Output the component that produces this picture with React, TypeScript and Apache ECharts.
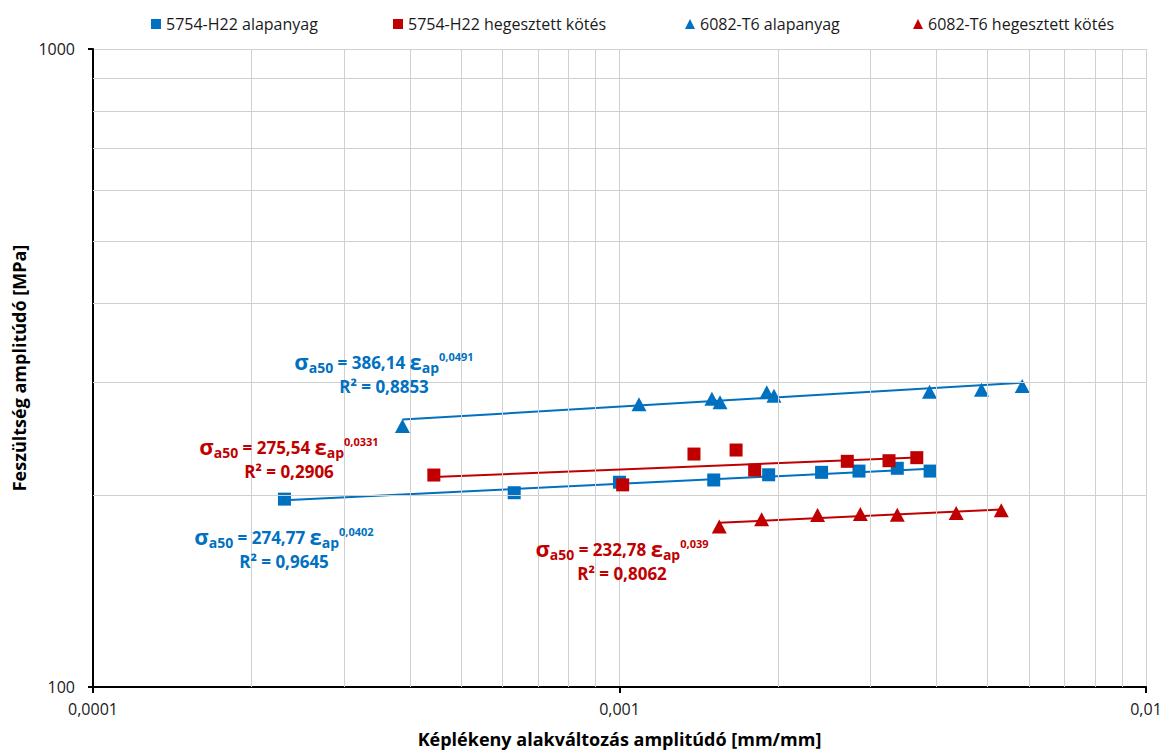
import React, { useEffect, useRef } from "react";
import * as echarts from "echarts";

// ---- data ----
const seriesNames = [
  "5754-H22 alapanyag",
  "5754-H22 hegesztett kötés",
  "6082-T6 alapanyag",
  "6082-T6 hegesztett kötés",
];

const blueSqX = [2.31e-4, 6.31e-4, 1.0e-3, 1.51e-3, 1.92e-3, 2.42e-3, 2.85e-3, 3.37e-3, 3.89e-3];
const blueSqY = [197.0, 201.6, 209.4, 211.1, 215.1, 217.0, 218.0, 220.2, 218.0];

const redSqX = [4.44e-4, 1.014e-3, 1.385e-3, 1.665e-3, 1.806e-3, 2.708e-3, 3.25e-3, 3.67e-3];
const redSqY = [214.9, 207.4, 231.8, 235.2, 218.8, 225.8, 226.3, 228.8];

const blueTriX = [3.87e-4, 1.089e-3, 1.498e-3, 1.552e-3, 1.904e-3, 1.965e-3, 3.88e-3, 4.87e-3, 5.82e-3];
const blueTriY = [256.6, 277.4, 283.1, 279.4, 289.7, 286.2, 290.3, 292.4, 296.3];

const redTriX = [1.547e-3, 1.862e-3, 2.378e-3, 2.867e-3, 3.37e-3, 4.36e-3, 5.31e-3];
const redTriY = [178.4, 183.2, 186.1, 186.7, 186.2, 187.4, 189.2];

// power-law trend coefficients (sigma = A * eps^B), as printed on the chart
const fitA = [274.77, 275.54, 386.14, 232.78];
const fitB = [0.0402, 0.0331, 0.0491, 0.039];
const fitAText = ["274,77", "275,54", "386,14", "232,78"];
const fitBText = ["0,0402", "0,0331", "0,0491", "0,039"];
const fitR2Text = ["0,9645", "0,2906", "0,8853", "0,8062"];

// axis ticks
const xMin = 0.0001;
const xMax = 0.01;
const yMin = 100;
const yMax = 1000;
const xTicks = [0.0001, 0.001, 0.01];
const xTickLabels = ["0,0001", "0,001", "0,01"];
const yTicks = [100, 1000];
const yTickLabels = ["100", "1000"];
const xMinorGrid = [0.0002, 0.0003, 0.0004, 0.0005, 0.0006, 0.0007, 0.0008, 0.0009,
  0.002, 0.003, 0.004, 0.005, 0.006, 0.007, 0.008, 0.009];
const yMinorGrid = [200, 300, 400, 500, 600, 700, 800, 900];

const xAxisTitle = "Képlékeny alakváltozás amplitúdó [mm/mm]";
const yAxisTitle = "Feszültség amplitúdó [MPa]";

const BLUE = "#0070C0";
const RED = "#C00000";
const FONT = "'Open Sans', 'Noto Sans', sans-serif";
const GRID = "#D0D0D0";

function zip(xs: number[], ys: number[]) {
  return xs.map((x, i) => [x, ys[i]]);
}
function trend(xs: number[], k: number) {
  const x0 = Math.min(...xs);
  const x1 = Math.max(...xs);
  return [
    [x0, fitA[k] * Math.pow(x0, fitB[k])],
    [x1, fitA[k] * Math.pow(x1, fitB[k])],
  ];
}
function pickLabel(v: number, ticks: number[], labels: string[]) {
  const i = ticks.findIndex((t) => Math.abs(Math.log10(v / t)) < 0.01);
  return i >= 0 ? labels[i] : "";
}

function richFor(color: string) {
  return {
    g: { fontSize: 22, fontWeight: "bold", fontFamily: FONT, fill: color, lineHeight: 26, padding: [0, 0, 3, 0] },
    m: { fontSize: 17, fontWeight: "bold", fontFamily: FONT, fill: color, lineHeight: 26 },
    sub: { fontSize: 14, fontWeight: "bold", fontFamily: FONT, fill: color, lineHeight: 14, padding: [11, 0, 0, 0] },
    sup: { fontSize: 11, fontWeight: "bold", fontFamily: FONT, fill: color, lineHeight: 11, padding: [0, 0, 11, 0] },
    r: { fontSize: 17, fontWeight: "bold", fontFamily: FONT, fill: color, lineHeight: 22 },
  };
}
function eqText(k: number) {
  return (
    "{g|σ}{sub|a50}{m| = " + fitAText[k] + " }{g|ε}{sub|ap}{sup|" + fitBText[k] + "}\n" +
    "{r|R² = " + fitR2Text[k] + "}"
  );
}

export default function App() {
  const ref = useRef<HTMLDivElement>(null);
  useEffect(() => {
    if (!ref.current) return;
    const chart = echarts.init(ref.current, null, { renderer: "svg" });

    const legendLefts = [146, 388, 680, 908];
    const legendIcons = ["rect", "rect", "triangle", "triangle"];

    const minorLines = [
      ...xMinorGrid.map((v) => [{ coord: [v, yMin] }, { coord: [v, yMax] }]),
      ...yMinorGrid.map((v) => [{ coord: [xMin, v] }, { coord: [xMax, v] }]),
    ];

    const option: any = {
      animation: false,
      backgroundColor: "#ffffff",
      legend: seriesNames.map((n, i) => ({
        data: [{ name: n, icon: legendIcons[i] }],
        left: legendLefts[i],
        top: 11,
        itemWidth: 10,
        itemHeight: 10,
        itemGap: 0,
        selectedMode: false,
        textStyle: { fontFamily: FONT, fontSize: 16, color: "#1a1a1a", padding: [0, 0, 0, 0] },
      })),
      grid: { left: 93, right: 22, top: 49, bottom: 67, containLabel: false },
      xAxis: {
        type: "log",
        logBase: 10,
        min: xMin,
        max: xMax,
        name: xAxisTitle,
        nameLocation: "middle",
        nameGap: 43,
        nameTextStyle: { fontFamily: FONT, fontSize: 18, fontWeight: "bold", color: "#000" },
        axisLine: { show: true, onZero: false, lineStyle: { color: "#000", width: 2 } },
        axisTick: { show: true, inside: false, length: 6, lineStyle: { color: "#000", width: 2 } },
        axisLabel: {
          margin: 14,
          fontFamily: FONT,
          fontSize: 16,
          color: "#1a1a1a",
          formatter: (v: number) => pickLabel(v, xTicks, xTickLabels),
        },
        splitLine: { show: true, lineStyle: { color: GRID, width: 1 } },
        minorTick: { show: false },
        minorSplitLine: { show: false },
      },
      yAxis: {
        type: "log",
        logBase: 10,
        min: yMin,
        max: yMax,
        name: yAxisTitle,
        nameLocation: "middle",
        nameGap: 57,
        nameRotate: 90,
        nameTextStyle: { fontFamily: FONT, fontSize: 18, fontWeight: "bold", color: "#000" },
        axisLine: { show: true, onZero: false, lineStyle: { color: "#000", width: 2 } },
        axisTick: { show: true, inside: false, length: 5, lineStyle: { color: "#000", width: 2 } },
        axisLabel: {
          margin: 18,
          fontFamily: FONT,
          fontSize: 16,
          color: "#1a1a1a",
          formatter: (v: number) => pickLabel(v, yTicks, yTickLabels),
        },
        splitLine: { show: true, lineStyle: { color: GRID, width: 1 } },
        minorTick: { show: false },
        minorSplitLine: { show: false },
      },
      series: [
        {
          name: "grid-minor",
          type: "line",
          data: [[0.001, 150]],
          symbol: "none",
          lineStyle: { opacity: 0 },
          z: 0,
          silent: true,
          markLine: {
            silent: true,
            symbol: ["none", "none"],
            label: { show: false },
            emphasis: { disabled: true },
            lineStyle: { color: GRID, width: 1, type: "solid" },
            data: minorLines,
          },
        },
        { name: "t0", type: "line", data: trend(blueSqX, 0), symbol: "none", z: 2, silent: true, lineStyle: { color: BLUE, width: 2 } },
        { name: "t1", type: "line", data: trend(redSqX, 1), symbol: "none", z: 2, silent: true, lineStyle: { color: RED, width: 2 } },
        { name: "t2", type: "line", data: trend(blueTriX, 2), symbol: "none", z: 2, silent: true, lineStyle: { color: BLUE, width: 2 } },
        { name: "t3", type: "line", data: trend(redTriX, 3), symbol: "none", z: 2, silent: true, lineStyle: { color: RED, width: 2 } },
        { name: seriesNames[0], type: "scatter", data: zip(blueSqX, blueSqY), symbol: "rect", symbolSize: 13, z: 3, itemStyle: { color: BLUE, opacity: 1 } },
        { name: seriesNames[1], type: "scatter", data: zip(redSqX, redSqY), symbol: "rect", symbolSize: 13, z: 3, itemStyle: { color: RED, opacity: 1 } },
        { name: seriesNames[2], type: "scatter", data: zip(blueTriX, blueTriY), symbol: "triangle", symbolSize: [15, 14], z: 3, itemStyle: { color: BLUE, opacity: 1 } },
        { name: seriesNames[3], type: "scatter", data: zip(redTriX, redTriY), symbol: "triangle", symbolSize: [15, 14], z: 3, itemStyle: { color: RED, opacity: 1 } },
      ],
      graphic: [
        { type: "text", x: 384, y: 349, z: 10, style: { text: eqText(2), rich: richFor(BLUE), align: "center", verticalAlign: "top", fill: BLUE } },
        { type: "text", x: 289, y: 434, z: 10, style: { text: eqText(1), rich: richFor(RED), align: "center", verticalAlign: "top", fill: RED } },
        { type: "text", x: 284, y: 524, z: 10, style: { text: eqText(0), rich: richFor(BLUE), align: "center", verticalAlign: "top", fill: BLUE } },
        { type: "text", x: 622, y: 536, z: 10, style: { text: eqText(3), rich: richFor(RED), align: "center", verticalAlign: "top", fill: RED } },
      ],
    };
    chart.setOption(option);
    return () => chart.dispose();
  }, []);
  return (
    <div
      ref={ref}
      style={{ position: "fixed", left: 0, top: 0, width: 1168, height: 754, background: "#fff" }}
    />
  );
}
